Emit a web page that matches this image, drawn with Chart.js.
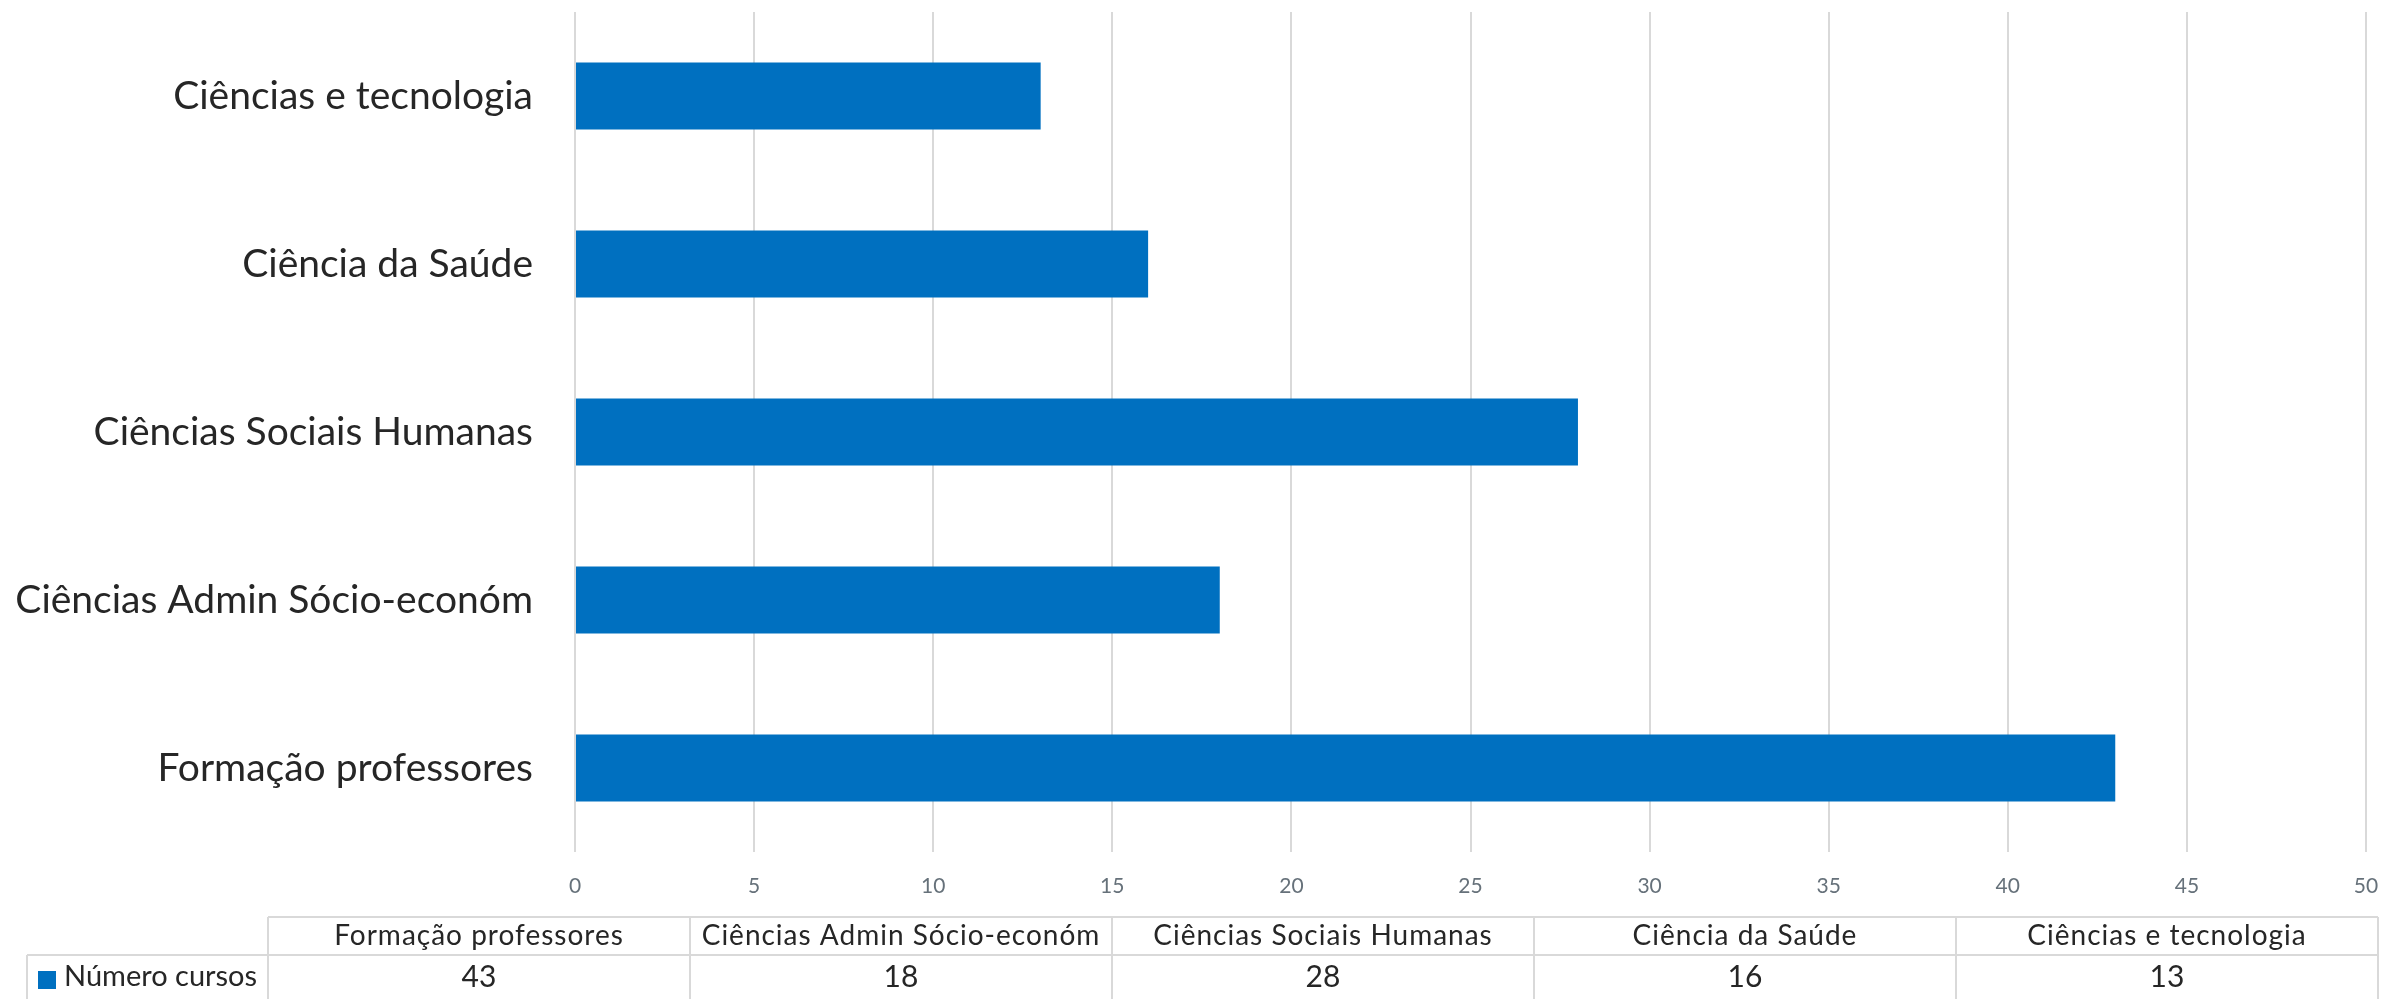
<!DOCTYPE html>
<html>
<head>
<meta charset="utf-8">
<script src="https://cdn.jsdelivr.net/npm/chart.js@4/dist/chart.umd.min.js"></script>
<style>
  html, body { margin: 0; padding: 0; background: #ffffff; }
  #wrap { position: relative; width: 2382px; height: 999px; }
  canvas { display: block; }
</style>
</head>
<body>
<div id="wrap"><canvas id="c" width="2382" height="999"></canvas></div>
<script>
// ---- data (table order, bottom-to-top in the chart) ----
const categories = [
  "Formação professores",
  "Ciências Admin Sócio-económ",
  "Ciências Sociais Humanas",
  "Ciência da Saúde",
  "Ciências e tecnologia"
];
const seriesName = "Número cursos";
const numeroCursos = [43, 18, 28, 16, 13];
const xTicks = [0, 5, 10, 15, 20, 25, 30, 35, 40, 45, 50];

const BAR_COLOR = "#0070C0";
const GRID_COLOR = "#d9d9d9";
const TEXT_COLOR = "#262626";
const TICK_COLOR = "#66717a";
const FONT = "Lato, 'Open Sans', sans-serif";

const dataTablePlugin = {
  id: "dataTable",
  afterDraw(chart) {
    const ctx = chart.ctx;
    const tableLeft = 268, tableRight = 2378;
    const headTop = 917, rowTop = 955, bottom = 999;
    const rowLeft = 27;
    const n = categories.length;
    const colW = (tableRight - tableLeft) / n;
    ctx.save();
    ctx.strokeStyle = GRID_COLOR;
    ctx.lineWidth = 2;
    ctx.beginPath();
    ctx.moveTo(tableLeft, headTop); ctx.lineTo(tableRight, headTop);
    ctx.moveTo(rowLeft, rowTop); ctx.lineTo(tableRight, rowTop);
    ctx.moveTo(rowLeft, rowTop); ctx.lineTo(rowLeft, bottom);
    for (let i = 0; i <= n; i++) {
      const x = tableLeft + colW * i;
      ctx.moveTo(x, headTop); ctx.lineTo(x, bottom);
    }
    ctx.stroke();

    ctx.fillStyle = TEXT_COLOR;
    ctx.textAlign = "center";
    ctx.textBaseline = "middle";
    ctx.font = "28px " + FONT;
    try { ctx.letterSpacing = "1px"; } catch (e) {}
    categories.forEach((c, i) => {
      ctx.fillText(c, tableLeft + colW * (i + 0.5), 936);
    });
    try { ctx.letterSpacing = "0px"; } catch (e) {}
    ctx.font = "30px " + FONT;
    numeroCursos.forEach((v, i) => {
      ctx.fillText(String(v), tableLeft + colW * (i + 0.5), 977);
    });
    ctx.fillStyle = BAR_COLOR;
    ctx.fillRect(38, 971, 18, 18);
    ctx.fillStyle = TEXT_COLOR;
    ctx.textAlign = "left";
    ctx.font = "29px " + FONT;
    ctx.fillText(seriesName, 64, 977);
    ctx.restore();
  }
};

new Chart(document.getElementById("c"), {
  type: "bar",
  data: {
    labels: categories,
    datasets: [{
      label: seriesName,
      data: numeroCursos,
      backgroundColor: BAR_COLOR,
      borderWidth: 0,
      barPercentage: 0.4,
      categoryPercentage: 1.0
    }]
  },
  options: {
    indexAxis: "y",
    responsive: false,
    animation: false,
    devicePixelRatio: 1,
    layout: { padding: { left: 0, top: 12, right: 16, bottom: 92 } },
    plugins: {
      legend: { display: false },
      tooltip: { enabled: false },
      title: { display: false }
    },
    scales: {
      x: {
        min: 0, max: 50,
        afterBuildTicks(scale) { scale.ticks = xTicks.map(v => ({ value: v })); },
        afterFit(scale) { scale.height = 55; scale.paddingLeft = 0; scale.paddingRight = 0; },
        grid: { color: GRID_COLOR, lineWidth: 2, drawTicks: false },
        border: { display: false },
        ticks: {
          color: TICK_COLOR,
          font: { family: FONT, size: 21 },
          padding: 22,
          maxRotation: 0
        }
      },
      y: {
        reverse: true,
        afterFit(scale) { scale.width = 575; scale.paddingTop = 0; scale.paddingBottom = 0; },
        grid: { display: false, drawTicks: false },
        border: { display: false },
        ticks: {
          color: TEXT_COLOR,
          font: { family: FONT, size: 39 },
          padding: 42
        }
      }
    }
  },
  plugins: [dataTablePlugin]
});
</script>
</body>
</html>
